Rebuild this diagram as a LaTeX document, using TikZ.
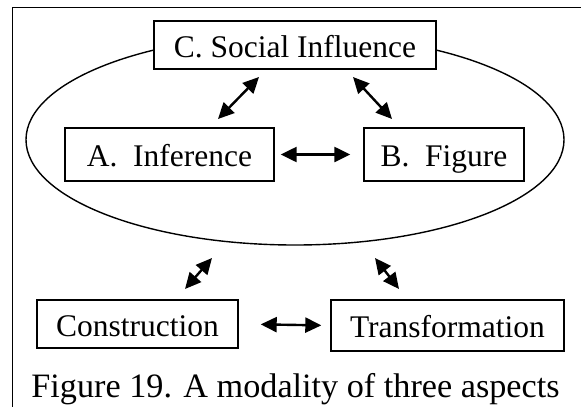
\documentclass[tikz,border=0pt]{standalone}
\usepackage{fontspec}
\setmainfont{Liberation Serif}
\usetikzlibrary{arrows.meta, shapes.geometric, positioning}

\tikzset{
    box/.style={draw, line width=0.7pt, fill=white, inner sep=0pt, text height=15.4pt, text depth=3.4pt, font=\fontsize{15.75}{18}\selectfont},
    link/.style={{Triangle[length=8pt,width=7.5pt]}-{Triangle[length=8pt,width=7.5pt]}, line width=1.2pt}
}

\begin{document}
\begin{tikzpicture}[x=0.5pt, y=-0.5pt]
                \useasboundingbox (0,0) rectangle (581,407);

                % Frame
                \draw[line width=0.7pt] (581,7.3) -- (12.3,7.3) -- (12.3,407);

                % Group of the three aspects
                \node[ellipse, draw, line width=0.7pt, inner sep=0pt, minimum width=269pt, minimum height=105.3pt] (group) at (295,139.7) {};

                % Aspects
                \node[box, minimum width=141pt, minimum height=24pt] (social) at (295,45) {C. Social Influence};
                \node[box, minimum width=104.5pt, minimum height=26.5pt] (infer) at (169.5,154.5) {A.\ \ Inference};
                \node[box, minimum width=80pt, minimum height=26.5pt] (figure) at (444,154.5) {B.\ \ Figure};
                \node[box, minimum width=100.5pt, minimum height=24pt] (constr) at (137.5,324) {Construction};
                \node[box, minimum width=116.5pt, minimum height=25.5pt] (transf) at (447.5,325.5) {Transformation};

                % Arrow ends
                \coordinate (ca1) at (259,77);
                \coordinate (ca2) at (218,119);
                \coordinate (cb1) at (353,77);
                \coordinate (cb2) at (392,119);
                \coordinate (gc1) at (212,258);
                \coordinate (gc2) at (185,289);
                \coordinate (gt1) at (375,258);
                \coordinate (gt2) at (399,289);

                % Links
                \draw[link] (ca1) -- (ca2);
                \draw[link] (cb1) -- (cb2);
                \draw[link, shorten <=3pt, shorten >=6.5pt] (infer.east) -- (figure.west);
                \draw[link] (gc1) -- (gc2);
                \draw[link] (gt1) -- (gt2);
                \draw[link, shorten <=11pt, shorten >=4.5pt] (constr.east) -- (transf.west);

                % Caption
                \node[anchor=base, inner sep=0pt, font=\fontsize{17.1}{20}\selectfont] (caption) at (295.5,397) {Figure 19. A modality of three aspects};
            \end{tikzpicture}
\end{document}
